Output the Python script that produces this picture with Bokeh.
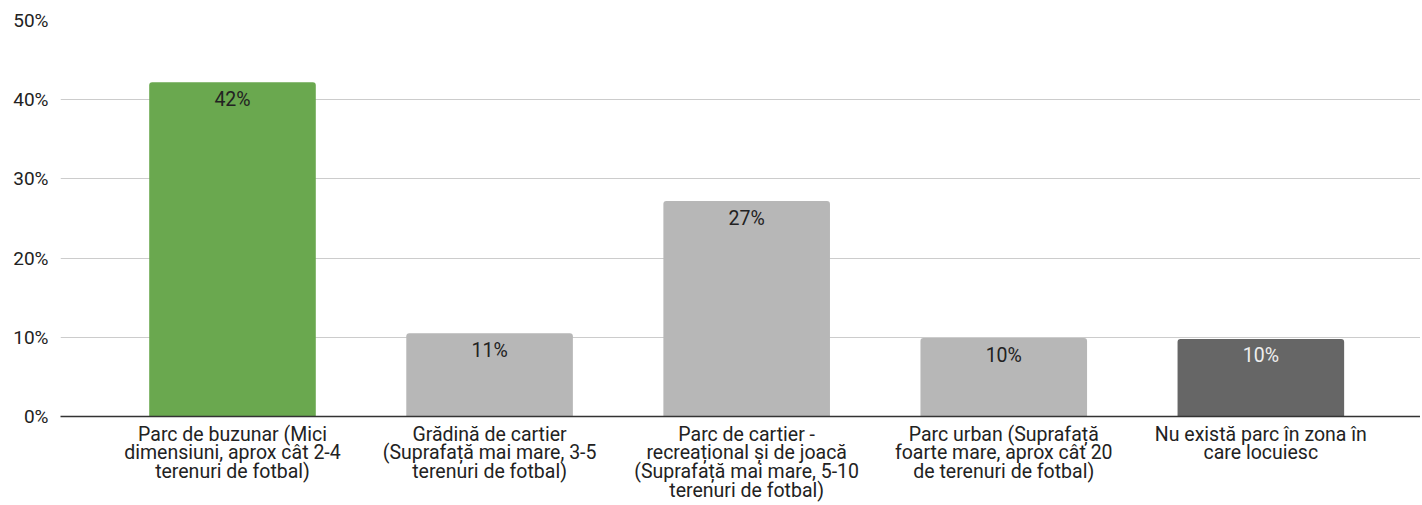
from bokeh.plotting import figure
from bokeh.models import ColumnDataSource, FixedTicker, Range1d, PrintfTickFormatter
from bokeh.core.properties import value
from bokeh.embed import file_html
from bokeh.resources import INLINE

categories = [
    "Parc de buzunar (Mici\ndimensiuni, aprox cât 2-4\nterenuri de fotbal)",
    "Grădină de cartier\n(Suprafață mai mare, 3-5\nterenuri de fotbal)",
    "Parc de cartier -\nrecreațional și de joacă\n(Suprafață mai mare, 5-10\nterenuri de fotbal)",
    "Parc urban (Suprafață\nfoarte mare, aprox cât 20\nde terenuri de fotbal)",
    "Nu există parc în zona în\ncare locuiesc",
]
percent = [42.2, 10.5, 27.2, 9.9, 9.8]
labels = ["42%", "11%", "27%", "10%", "10%"]
y_ticks = [0, 10, 20, 30, 40, 50]

bar_colors = ["#6aa84f", "#b7b7b7", "#b7b7b7", "#b7b7b7", "#666666"]
label_colors = ["#222222", "#222222", "#222222", "#222222", "#eeeeee"]

xs = list(range(len(categories)))
src = ColumnDataSource(dict(x=xs, top=percent, label=labels,
                            color=bar_colors, lcolor=label_colors))

p = figure(width=1420, height=505, output_backend="svg", toolbar_location=None,
           x_range=Range1d(-0.669, 4.621), y_range=Range1d(0, 50),
           min_border_left=60, min_border_right=0, min_border_top=20,
           min_border_bottom=89)
p.outline_line_color = None
p.background_fill_color = "white"
p.border_fill_color = "white"

p.vbar(x="x", top="top", bottom=0, width=0.648, source=src,
       fill_color="color", line_color=None, border_radius=(3, 3, 0, 0))

p.text(x="x", y="top", text="label", source=src, text_align="center",
       text_baseline="top", y_offset=5.5, text_color="lcolor",
       text_font=value("Roboto"), text_font_size="19.5px")

p.xgrid.grid_line_color = None
p.ygrid.grid_line_color = "#cccccc"
p.ygrid.grid_line_width = 1
p.ygrid.ticker = FixedTicker(ticks=y_ticks)

p.yaxis.ticker = FixedTicker(ticks=y_ticks)
p.yaxis.formatter = PrintfTickFormatter(format="%d%%")
p.yaxis.axis_line_color = None
p.yaxis.major_tick_line_color = None
p.yaxis.minor_tick_line_color = None
p.yaxis.major_tick_in = 0
p.yaxis.major_tick_out = 0
p.yaxis.major_label_standoff = 12
p.yaxis.major_label_text_font = "Roboto"
p.yaxis.major_label_text_font_size = "19px"
p.yaxis.major_label_text_color = "#222222"

p.xaxis.ticker = FixedTicker(ticks=xs)
p.xaxis.major_label_overrides = {i: c for i, c in enumerate(categories)}
p.xaxis.axis_line_color = "#333333"
p.xaxis.axis_line_width = 1.5
p.xaxis.major_tick_line_color = None
p.xaxis.minor_tick_line_color = None
p.xaxis.major_tick_in = 0
p.xaxis.major_tick_out = 0
p.xaxis.major_label_standoff = 6
p.xaxis.major_label_text_font = "Roboto"
p.xaxis.major_label_text_font_size = "19.5px"
p.xaxis.major_label_text_line_height = 0.82
p.xaxis.major_label_text_color = "#222222"

open("out.html", "w").write(file_html(p, INLINE))
